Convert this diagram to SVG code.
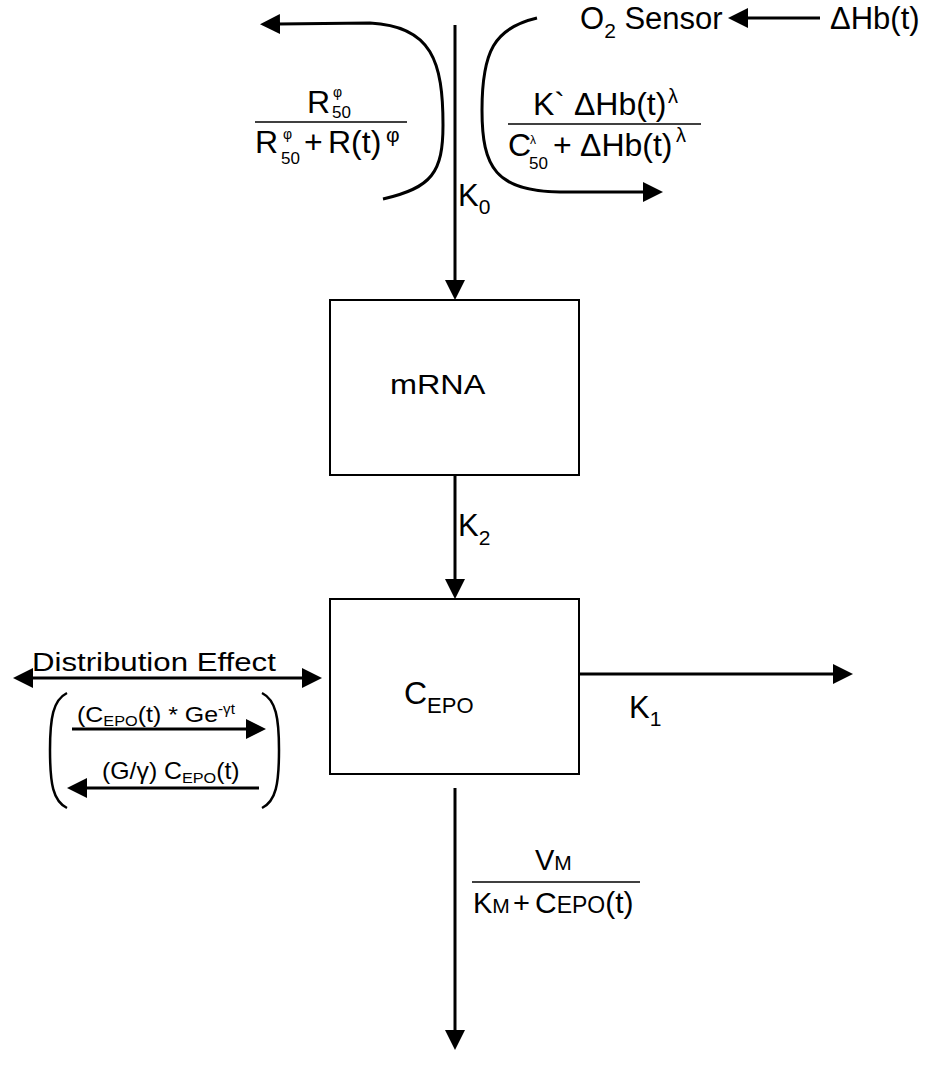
<svg xmlns="http://www.w3.org/2000/svg" width="929" height="1068" viewBox="0 0 929 1068">
<style>
text{font-family:"Liberation Sans",Arial,sans-serif;fill:#000}
.ln{stroke:#000;stroke-width:3;fill:none}
.box{stroke:#000;stroke-width:2;fill:#fff}
.fr{stroke:#000;stroke-width:1.5}
.par{stroke:#000;stroke-width:2.5;fill:none}
</style>
<defs>
<marker id="ah" viewBox="0 0 20 20" refX="2" refY="10" markerWidth="20" markerHeight="20" markerUnits="userSpaceOnUse" orient="auto-start-reverse"><path d="M0,0 L20,10 L0,20 z" fill="#000"/></marker>
</defs>
<rect width="929" height="1068" fill="#fff"/>

<g id="connectors">
<line class="ln" x1="455" y1="25" x2="455" y2="282" marker-end="url(#ah)"/>
<line class="ln" x1="455" y1="475" x2="455" y2="581" marker-end="url(#ah)"/>
<line class="ln" x1="579" y1="674" x2="835" y2="674" marker-end="url(#ah)"/>
<line class="ln" x1="455" y1="788" x2="455" y2="1032" marker-end="url(#ah)"/>
<line class="ln" x1="820" y1="18" x2="746" y2="18" marker-end="url(#ah)"/>
<line class="ln" x1="31" y1="678" x2="304" y2="678" marker-start="url(#ah)" marker-end="url(#ah)"/>
<line class="ln" x1="72" y1="729" x2="248" y2="729" marker-end="url(#ah)"/>
<line class="ln" x1="259" y1="788" x2="85" y2="788" marker-end="url(#ah)"/>
<path class="ln" d="M383,199 C432,188 443,172 443,125 C443,62 432,26 370,23 L278,24" marker-end="url(#ah)"/>
<path class="ln" d="M537,18 C494,28 482,52 482,110 C482,168 496,191 560,192 L645,192" marker-end="url(#ah)"/>
</g>

<g id="sensor">
<text x="580" y="29" font-size="31">O<tspan font-size="21" dy="9">2</tspan><tspan dy="-9"> Sensor</tspan></text>
</g>
<g id="dhb">
<text x="830" y="29" font-size="31">ΔHb(t)</text>
</g>

<g id="left-formula">
<text x="307" y="113" font-size="32">R</text>
<text x="333" y="97" font-size="14">φ</text>
<text x="332" y="118" font-size="17">50</text>
<line class="fr" x1="255" y1="122" x2="407" y2="122"/>
<text x="255" y="153" font-size="32">R</text>
<text x="283" y="139" font-size="14">φ</text>
<text x="281" y="164" font-size="17">50</text>
<text x="304" y="153" font-size="32">+</text>
<text x="328" y="153" font-size="32">R(t)</text>
<text x="386" y="142" font-size="21">φ</text>
</g>

<g id="right-formula">
<text x="533" y="115" font-size="32">K` ΔHb(t)</text>
<text x="668" y="103" font-size="20">λ</text>
<line class="fr" x1="508" y1="124" x2="701" y2="124"/>
<text x="508" y="156" font-size="32">C</text>
<text x="530" y="144" font-size="12">λ</text>
<text x="529" y="169" font-size="17">50</text>
<text x="553" y="156" font-size="32">+</text>
<text x="580" y="156" font-size="32">ΔHb(t)</text>
<text x="676" y="142" font-size="20">λ</text>
</g>

<g id="k0"><text x="458" y="206" font-size="31">K<tspan font-size="21" dy="8">0</tspan></text></g>

<g id="mrna">
<rect class="box" x="330" y="300" width="249" height="175"/>
<text transform="translate(390,394) scale(1.2,1)" font-size="27">mRNA</text>
</g>

<g id="k2"><text x="458" y="536" font-size="31">K<tspan font-size="21" dy="9">2</tspan></text></g>

<g id="cepo">
<rect class="box" x="330" y="599" width="249" height="175"/>
<text x="404" y="704" font-size="32">C<tspan font-size="22" dy="9">EPO</tspan></text>
</g>

<g id="k1"><text x="629" y="718" font-size="31">K<tspan font-size="21" dy="8">1</tspan></text></g>

<g id="distribution">
<text transform="translate(32,671) scale(1.2,1)" font-size="26">Distribution Effect</text>
<path class="par" d="M67,693 C53,700 50,718 50,750 C50,784 53,801 67,808"/>
<path class="par" d="M262,693 C276,700 279,718 279,750 C279,784 276,801 262,808"/>
<text transform="translate(77,722) scale(1.085,1)" font-size="23">(C<tspan font-size="15" dy="4">EPO</tspan><tspan dy="-4">(t) * Ge</tspan><tspan font-size="14" dy="-8">-γt</tspan></text>
<text transform="translate(102,779) scale(1.08,1)" font-size="23">(G/γ) C<tspan font-size="15" dy="4">EPO</tspan><tspan dy="-4">(t)</tspan></text>
</g>

<g id="vm-formula">
<text x="535" y="870" font-size="29">V<tspan font-size="21">M</tspan></text>
<line class="fr" x1="472" y1="882" x2="640" y2="882"/>
<text x="473" y="913" font-size="29">K<tspan font-size="21">M</tspan></text>
<text x="513" y="913" font-size="29">+</text>
<text x="535" y="913" font-size="30">C<tspan font-size="23">EPO</tspan><tspan>(t)</tspan></text>
</g>
</svg>
